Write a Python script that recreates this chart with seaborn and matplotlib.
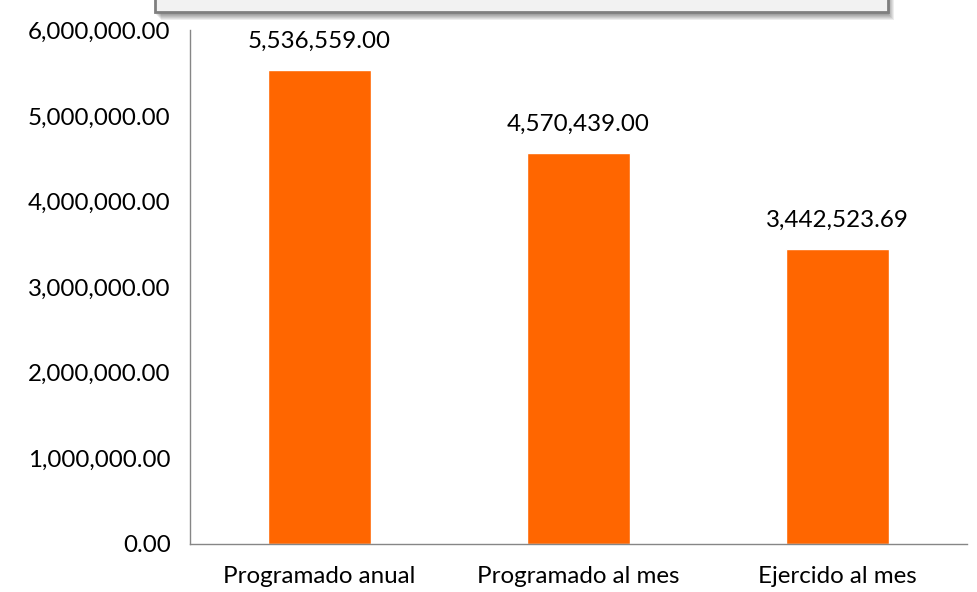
import matplotlib
matplotlib.use("Agg")
import matplotlib.pyplot as plt
import seaborn as sns
import pandas as pd
from matplotlib.patches import Rectangle

categories = ["Programado anual", "Programado al mes", "Ejercido al mes"]
values = [5536559.00, 4570439.00, 3442523.69]
value_labels = ["5,536,559.00", "4,570,439.00", "3,442,523.69"]
y_ticks = [0, 1000000, 2000000, 3000000, 4000000, 5000000, 6000000]

sns.set_style("white")
plt.rcParams["font.family"] = ["Lato", "DejaVu Sans"]
plt.rcParams["text.color"] = "black"
plt.rcParams["xtick.color"] = "black"
plt.rcParams["ytick.color"] = "black"

df = pd.DataFrame({"cat": categories, "val": values})

W, H = 978, 592
fig = plt.figure(figsize=(W / 100, H / 100), dpi=100)
ax = fig.add_axes([190 / W, 48 / H, 777 / W, 513.6 / H])
sns.barplot(data=df, x="cat", y="val", color="#FF6600", width=0.40,
            saturation=1, ax=ax)

fs = 17.4
ax.set_xlim(-0.5, 2.5)
ax.set_ylim(0, 6000000)
ax.set_yticks(y_ticks)
ax.set_yticklabels(["{:,.2f}".format(v) for v in y_ticks], fontsize=fs)
ax.set_xticks(range(3))
ax.set_xticklabels(categories, fontsize=fs)
ax.set_xticks([-0.5, 0.5, 1.5, 2.5], minor=True)
ax.tick_params(axis="x", which="major", length=0, pad=16)
ax.tick_params(axis="x", which="minor", length=6, color="#868686", width=1)
ax.tick_params(axis="y", length=6, color="#868686", width=1, pad=8)
ax.set_xlabel("")
ax.set_ylabel("")
for side in ["top", "right"]:
    ax.spines[side].set_visible(False)
for side in ["left", "bottom"]:
    ax.spines[side].set_color("#868686")
    ax.spines[side].set_linewidth(1)

for i, (v, lab) in enumerate(zip(values, value_labels)):
    ax.annotate(lab, (i, v), xytext=(0, 13), textcoords="offset points",
                ha="center", va="bottom", fontsize=fs)

# clipped title box at the top with a soft shadow
for k in range(6, 0, -1):
    fig.patches.append(Rectangle(((155 + k) / W, (H - 14 - k) / H), 733 / W, 40 / H,
                                 transform=fig.transFigure, facecolor="#000000",
                                 alpha=0.07, edgecolor="none", zorder=1))
fig.patches.append(Rectangle((155 / W, (H - 12) / H), 733 / W, 40 / H,
                             transform=fig.transFigure, facecolor="#F2F2F2",
                             edgecolor="#7F7F7F", linewidth=2, zorder=2))

fig.savefig("out.png", dpi=100)
